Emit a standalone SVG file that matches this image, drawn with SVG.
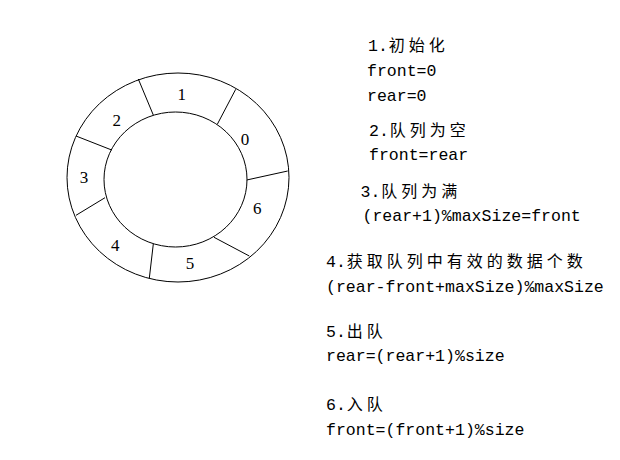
<svg xmlns="http://www.w3.org/2000/svg" width="620" height="460" viewBox="0 0 620 460">
<style>
.ring{fill:none;stroke:#000;stroke-width:1}
.div{stroke:#000;stroke-width:1}
.num{font-family:"Liberation Serif","Times New Roman",serif;font-size:17px;fill:#000;text-anchor:middle}
.t{font-family:"Liberation Mono","Noto Sans CJK SC",monospace;font-size:16.55px;fill:#000}
.c{font-family:"Noto Sans CJK SC",sans-serif;font-size:16px;letter-spacing:4px}
</style>
<rect width="620" height="460" fill="#fff"/>
<g id="ring">
<ellipse class="ring" cx="178" cy="177.5" rx="111" ry="104.5"/>
<ellipse class="ring" cx="175.5" cy="179.5" rx="71.5" ry="67.5"/>
</g>
<g id="dividers">
<line class="div" x1="138.3" y1="79" x2="153.3" y2="115"/>
<line class="div" x1="235.7" y1="89.3" x2="217.3" y2="124.3"/>
<line class="div" x1="287.7" y1="171" x2="246.7" y2="180"/>
<line class="div" x1="249.3" y1="256" x2="214" y2="237.3"/>
<line class="div" x1="149.3" y1="278.3" x2="153.3" y2="244"/>
<line class="div" x1="76" y1="215.3" x2="105" y2="197.7"/>
<line class="div" x1="76" y1="136" x2="111.7" y2="150"/>
</g>
<g id="labels">
<text class="num" x="181.7" y="99.5">1</text>
<text class="num" x="116.7" y="126">2</text>
<text class="num" x="245" y="145">0</text>
<text class="num" x="84" y="182.7">3</text>
<text class="num" x="257.3" y="213.7">6</text>
<text class="num" x="115.3" y="251">4</text>
<text class="num" x="190" y="269.3">5</text>
</g>
<g id="notes">
<text class="t" x="368" y="51">1.<tspan class="c" dx="1">初始化</tspan></text>
<text class="t" x="367" y="76">front=0</text>
<text class="t" x="367" y="101">rear=0</text>
<text class="t" x="369" y="135.5">2.<tspan class="c" dx="1">队列为空</tspan></text>
<text class="t" x="369" y="160">front=rear</text>
<text class="t" x="360.5" y="196.5">3.<tspan class="c" dx="1">队列为满</tspan></text>
<text class="t" x="362.5" y="221">(rear+1)%maxSize=front</text>
<text class="t" x="326" y="267.3">4.<tspan class="c" dx="1">获取队列中有效的数据个数</tspan></text>
<text class="t" x="326" y="291.7">(rear-front+maxSize)%maxSize</text>
<text class="t" x="326" y="336.7">5.<tspan class="c" dx="1">出队</tspan></text>
<text class="t" x="326" y="360.7">rear=(rear+1)%size</text>
<text class="t" x="326" y="410">6.<tspan class="c" dx="1">入队</tspan></text>
<text class="t" x="326" y="435">front=(front+1)%size</text>
</g>
</svg>
